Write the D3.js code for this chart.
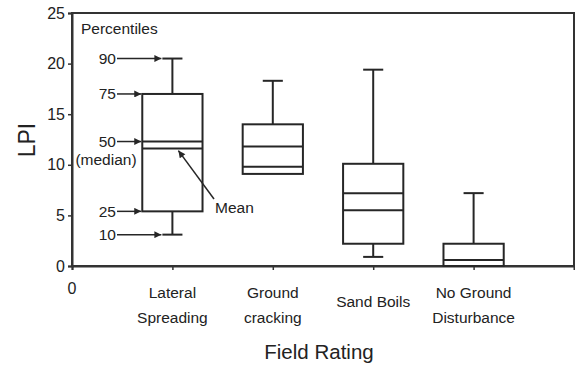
<!DOCTYPE html>
<html>
<head>
<meta charset="utf-8">
<script src="https://cdn.jsdelivr.net/npm/d3@7"></script>
<style>
  html, body { margin: 0; padding: 0; background: #fff; }
  svg { display: block; }
  text { font-family: "Liberation Sans", Arial, sans-serif; fill: #222; }
</style>
</head>
<body>
<svg id="chart" width="575" height="365"></svg>
<script>
// Field rating categories (label lines for each tick)
const categories = ["Lateral Spreading", "Ground cracking", "Sand Boils", "No Ground Disturbance"];
const categoryLines = [["Lateral", "Spreading"], ["Ground", "cracking"], ["Sand Boils"], ["No Ground", "Disturbance"]];

// LPI percentiles and means per category
const p10   = [3.1, 9.1, 0.9, 0.0];
const p25   = [5.4, 9.1, 2.2, 0.0];
const p50   = [12.3, 9.8, 5.5, 0.0];
const p75   = [17.0, 14.0, 10.1, 2.2];
const p90   = [20.5, 18.3, 19.4, 7.2];
const means = [11.6, 11.8, 7.2, 0.6];

const yTicks = [0, 5, 10, 15, 20, 25];

const svg = d3.select("#chart");
const ink = "#262626";

const x = d3.scaleLinear().domain([0, 5]).range([72, 574]);
const y = d3.scaleLinear().domain([0, 25]).range([266, 13]);

const boxHalf = 0.3;   // half box width in x units
const capHalf = 0.1;   // half whisker cap width in x units

// Arrowhead marker
svg.append("defs").append("marker")
  .attr("id", "arrow")
  .attr("viewBox", "0 0 10 10")
  .attr("refX", 10).attr("refY", 5)
  .attr("markerWidth", 8).attr("markerHeight", 7)
  .attr("markerUnits", "userSpaceOnUse")
  .attr("orient", "auto")
  .append("path").attr("d", "M0,0 L10,5 L0,10 Z").attr("fill", ink);

// Plot frame
svg.append("rect")
  .attr("x", x(0)).attr("y", y(25))
  .attr("width", x(5) - x(0)).attr("height", y(0) - y(25))
  .attr("fill", "none").attr("stroke", "#333").attr("stroke-width", 2);

// Y axis
const yAxis = svg.append("g")
  .attr("transform", `translate(${x(0)},0)`)
  .call(d3.axisLeft(y).tickValues(yTicks).tickSize(4).tickPadding(3));
yAxis.select(".domain").attr("stroke", "#333").attr("stroke-width", 2);
yAxis.selectAll(".tick line").attr("stroke", "#333").attr("stroke-width", 1.5);
yAxis.selectAll(".tick text")
  .style("font-family", "Liberation Sans, Arial, sans-serif")
  .style("font-size", "16px").attr("fill", ink);

// X axis with ticks at 0 and each category
const xAxis = svg.append("g")
  .attr("transform", `translate(0,${y(0)})`)
  .call(d3.axisBottom(x).tickValues([0, 1, 2, 3, 4]).tickSize(4).tickFormat(() => ""));
xAxis.select(".domain").attr("stroke", "#333").attr("stroke-width", 2);
xAxis.selectAll(".tick line").attr("stroke", "#333").attr("stroke-width", 1.5);

svg.append("text")
  .attr("x", x(0)).attr("y", 294)
  .attr("text-anchor", "middle")
  .style("font-size", "16px").text("0");

categoryLines.forEach((lines, i) => {
  const cx = x(i + 1);
  const t = svg.append("text").attr("text-anchor", "middle").style("font-size", "15.5px");
  if (lines.length === 1) {
    t.append("tspan").attr("x", cx).attr("y", 307).text(lines[0]);
  } else {
    lines.forEach((ln, j) => {
      t.append("tspan").attr("x", cx).attr("y", 298 + j * 25).text(ln);
    });
  }
});

// Axis titles
svg.append("text")
  .attr("x", 319).attr("y", 359)
  .attr("text-anchor", "middle")
  .style("font-size", "20.5px").text("Field Rating");

svg.append("text")
  .attr("transform", "translate(35,140) rotate(-90)")
  .attr("text-anchor", "middle")
  .style("font-size", "23px").text("LPI");

// Box plots
const boxes = svg.append("g").attr("stroke", ink).attr("stroke-width", 2).attr("fill", "none");
categories.forEach((c, i) => {
  const cx = i + 1;
  // upper whisker
  if (p90[i] > p75[i]) {
    boxes.append("line").attr("x1", x(cx)).attr("x2", x(cx)).attr("y1", y(p75[i])).attr("y2", y(p90[i]));
    boxes.append("line").attr("x1", x(cx - capHalf)).attr("x2", x(cx + capHalf)).attr("y1", y(p90[i])).attr("y2", y(p90[i]));
  }
  // lower whisker
  if (p10[i] < p25[i]) {
    boxes.append("line").attr("x1", x(cx)).attr("x2", x(cx)).attr("y1", y(p25[i])).attr("y2", y(p10[i]));
    boxes.append("line").attr("x1", x(cx - capHalf)).attr("x2", x(cx + capHalf)).attr("y1", y(p10[i])).attr("y2", y(p10[i]));
  }
  // box
  boxes.append("rect")
    .attr("x", x(cx - boxHalf)).attr("y", y(p75[i]))
    .attr("width", x(cx + boxHalf) - x(cx - boxHalf))
    .attr("height", y(p25[i]) - y(p75[i]))
    .attr("fill", "#fff");
  // median and mean lines
  [p50[i], means[i]].forEach(v => {
    if (v > p25[i] && v < p75[i]) {
      boxes.append("line").attr("x1", x(cx - boxHalf)).attr("x2", x(cx + boxHalf)).attr("y1", y(v)).attr("y2", y(v));
    }
  });
});

// Percentile key drawn on the first box
const k = 0, kc = 1;
const key = svg.append("g");
key.append("text").attr("x", 81).attr("y", 34).style("font-size", "15.5px").text("Percentiles");

const keyItems = [
  { label: "90", v: p90[k], to: x(kc - capHalf) },
  { label: "75", v: p75[k], to: x(kc - boxHalf) },
  { label: "50", v: p50[k], to: x(kc - boxHalf) },
  { label: "25", v: p25[k], to: x(kc - boxHalf) },
  { label: "10", v: p10[k], to: x(kc - capHalf) }
];
keyItems.forEach(d => {
  key.append("text")
    .attr("x", 116).attr("y", y(d.v) + 5.5)
    .attr("text-anchor", "end")
    .style("font-size", "15.5px").text(d.label);
  key.append("line")
    .attr("x1", 117).attr("x2", d.to - 1)
    .attr("y1", y(d.v)).attr("y2", y(d.v))
    .attr("stroke", ink).attr("stroke-width", 1.5)
    .attr("marker-end", "url(#arrow)");
});
key.append("text")
  .attr("x", 106).attr("y", y(p50[k]) + 23)
  .attr("text-anchor", "middle")
  .style("font-size", "15.5px").text("(median)");

// Mean pointer
key.append("line")
  .attr("x1", 214).attr("y1", 199)
  .attr("x2", x(kc) + 6).attr("y2", y(means[k]) + 2)
  .attr("stroke", ink).attr("stroke-width", 1.5)
  .attr("marker-end", "url(#arrow)");
key.append("text")
  .attr("x", 215).attr("y", 213)
  .style("font-size", "15.5px").text("Mean");
</script>
</body>
</html>
